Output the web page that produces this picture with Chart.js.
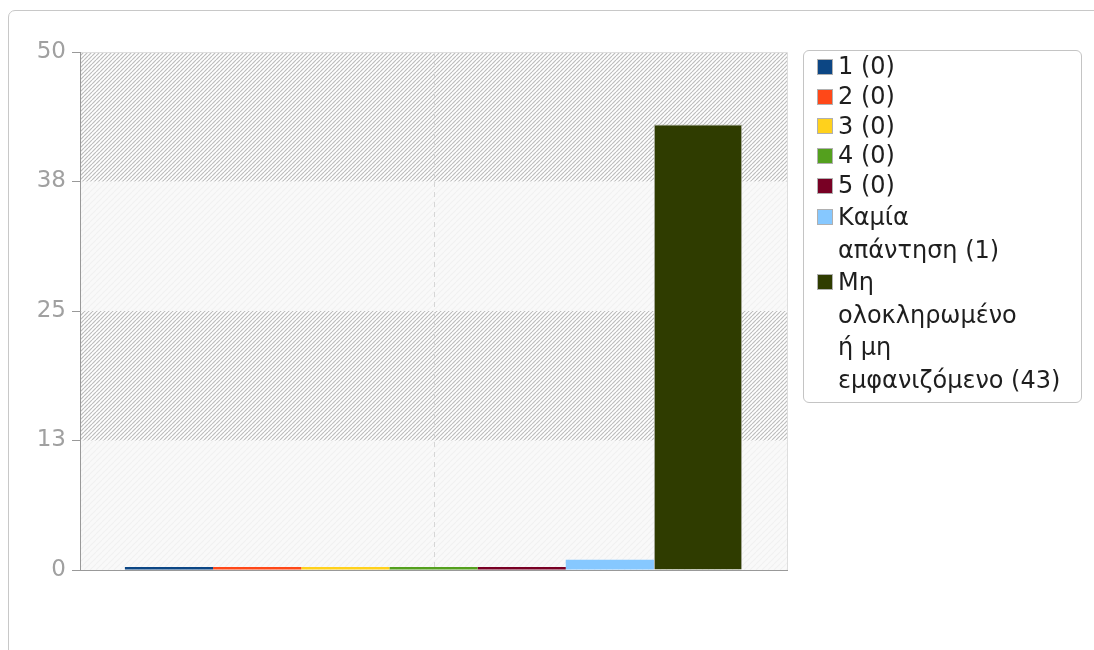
<!DOCTYPE html>
<html>
<head>
<meta charset="utf-8">
<script src="https://cdn.jsdelivr.net/npm/chart.js@4.4.1/dist/chart.umd.min.js"></script>
<style>
  body { margin: 0; background: #fff; font-family: "DejaVu Sans", sans-serif; }
  #wrap { position: relative; width: 1094px; height: 650px; overflow: hidden; }
  #panel { position: absolute; left: 8px; top: 10px; width: 1200px; height: 800px;
           border: 1px solid #c8c8c8; border-radius: 7px; }
  #chartBox { position: absolute; left: 0; top: 0; width: 1094px; height: 650px; }
  #legend { position: absolute; left: 803px; top: 50px; width: 279px; height: 353px;
            border: 1px solid #c4c4c4; border-radius: 6px; background: #fff; padding-top: 1px; box-sizing: border-box; }
  .item { position: relative; padding-left: 34px; font-size: 24px; color: #1e1e1e; white-space: nowrap; }
  .sw { position: absolute; left: 13px; width: 14px; height: 14px; border: 1px solid #b0b0b0; }
</style>
</head>
<body>
<div id="wrap">
  <div id="panel"></div>
  <div id="chartBox"><canvas id="grafica"></canvas></div>
  <div id="legend"></div>
</div>
<script>
// Datos
const categorias = ["1", "2", "3", "4", "5", "Καμία\nαπάντηση", "Μη\nολοκληρωμένο\nή μη\nεμφανιζόμενο"];
const valores = [0, 0, 0, 0, 0, 1, 43];
const colores = ["#0c4684", "#ff4818", "#ffd11c", "#54a01e", "#780024", "#86c8ff", "#2f3c00"];
const marcasY = [0, 12.5, 25, 37.5, 50];

/* LEYENDA */
const leyenda = document.getElementById("legend");
categorias.forEach((cat, i) => {
  const lineas = (cat + " (" + valores[i] + ")").split("\n");
  const lh = lineas.length > 1 ? 32.6 : 29.8;
  const item = document.createElement("div");
  item.className = "item";
  item.style.lineHeight = lh + "px";
  item.innerHTML = '<span class="sw" style="top:' + ((lh - 16) / 2) + 'px;background:' + colores[i] + '"></span>' +
    lineas.join("<br>");
  leyenda.appendChild(item);
});

/* FONDO RAYADO */
function patron(fondo, linea, paso, ancho) {
  const c = document.createElement("canvas");
  c.width = paso; c.height = paso;
  const g = c.getContext("2d");
  g.fillStyle = fondo;
  g.fillRect(0, 0, paso, paso);
  g.strokeStyle = linea;
  g.lineWidth = ancho;
  [-paso, 0, paso].forEach(k => {
    g.beginPath();
    g.moveTo(k, paso);
    g.lineTo(k + paso, 0);
    g.stroke();
  });
  return g.createPattern(c, "repeat");
}

const fondoPlugin = {
  id: "fondo",
  beforeDraw(chart) {
    const { ctx, chartArea: a, scales: { x, y } } = chart;
    const fuerte = patron("#ffffff", "#bdbdbd", 4, 1.2);
    const suave = patron("#f9f9f9", "#f1f1f1", 6, 1.2);
    ctx.save();
    for (let i = 0; i < marcasY.length - 1; i++) {
      const y1 = y.getPixelForValue(marcasY[i]);
      const y2 = y.getPixelForValue(marcasY[i + 1]);
      ctx.fillStyle = i % 2 === 0 ? suave : fuerte;
      ctx.fillRect(a.left, y2, a.right - a.left, y1 - y2);
    }
    // linea discontinua central
    const cx = Math.round(x.getPixelForValue(0)) + 0.5;
    ctx.strokeStyle = "#d6d6d6";
    ctx.lineWidth = 1;
    ctx.setLineDash([5, 5]);
    ctx.beginPath();
    ctx.moveTo(cx, a.top);
    ctx.lineTo(cx, a.bottom);
    ctx.stroke();
    ctx.setLineDash([]);
    // bordes claros arriba y derecha
    ctx.strokeStyle = "#dedede";
    ctx.beginPath();
    ctx.moveTo(a.left, a.top + 0.5);
    ctx.lineTo(a.right + 0.5, a.top + 0.5);
    ctx.lineTo(a.right + 0.5, a.bottom);
    ctx.stroke();
    // eje inferior
    ctx.strokeStyle = "#999999";
    ctx.beginPath();
    ctx.moveTo(a.left - 8, a.bottom + 0.5);
    ctx.lineTo(a.right + 1, a.bottom + 0.5);
    ctx.stroke();
    ctx.restore();
  }
};

/* GRÁFICA */
const ctx = document.getElementById("grafica");

new Chart(ctx, {
  type: "bar",
  data: {
    labels: [""],
    datasets: categorias.map((cat, i) => ({
      label: cat.replace(/\n/g, " "),
      data: [valores[i]],
      backgroundColor: colores[i],
      borderColor: i === 6 ? "#a9ad9c" : colores[i],
      borderWidth: i === 6 ? 1 : 0,
      categoryPercentage: 0.873,
      barPercentage: 1,
      minBarLength: 3
    }))
  },
  options: {
    responsive: true,
    maintainAspectRatio: false,
    animation: false,
    layout: { padding: { left: 0, top: 52, right: 307, bottom: 80 } },
    plugins: { legend: { display: false }, tooltip: { enabled: false } },
    scales: {
      x: { display: false },
      y: {
        min: 0,
        max: 50,
        afterFit: s => { s.width = 80; },
        afterBuildTicks: s => { s.ticks = marcasY.map(v => ({ value: v })); },
        ticks: {
          callback: v => Math.round(v),
          color: "#a0a0a0",
          padding: 6,
          font: { family: "DejaVu Sans", size: 23 }
        },
        grid: { drawOnChartArea: false, tickLength: 8, color: "#999999" },
        border: { color: "#999999" }
      }
    }
  },
  plugins: [fondoPlugin]
});
</script>
</body>
</html>
